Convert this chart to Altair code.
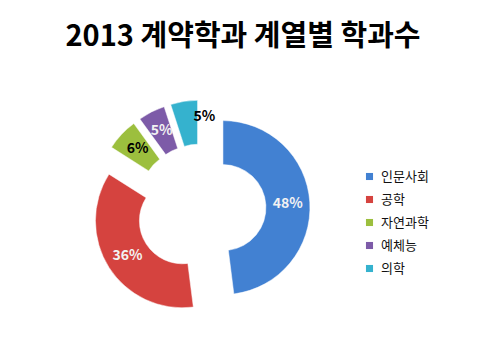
import altair as alt
import pandas as pd

title_text = "2013 계약학과 계열별 학과수"
categories = ["인문사회", "공학", "자연과학", "예체능", "의학"]
percents = [48, 36, 6, 5, 5]
colors = ["#4281D2", "#D5433F", "#9CBF3E", "#7D5BA8", "#35B2CE"]
dark_labels = ["자연과학", "의학"]

df = pd.DataFrame({"category": categories, "value": percents, "order": list(range(len(categories)))})

CX, CY = 201, 209
EXPLODE = 22
R_OUT, R_IN = 87, 43
R_LABEL = 65

base = alt.Chart(df).transform_window(
    cum="sum(value)", sort=[alt.SortField("order")], frame=[None, 0]
).transform_joinaggregate(total="sum(value)").transform_calculate(
    t0="(datum.cum - datum.value) / datum.total * 2 * PI",
    t1="datum.cum / datum.total * 2 * PI",
).transform_calculate(
    mid="(datum.t0 + datum.t1) / 2"
).transform_calculate(
    cx=f"{CX} + {EXPLODE} * sin(datum.mid)",
    cy=f"{CY} - {EXPLODE} * cos(datum.mid)",
    lx=f"{CX} + {EXPLODE + R_LABEL} * sin(datum.mid)",
    ly=f"{CY} - {EXPLODE + R_LABEL} * cos(datum.mid)",
    label="datum.value + '%'",
)

color_scale = alt.Scale(domain=categories, range=colors)

arcs = base.mark_arc(radius=R_OUT, radius2=R_IN, stroke="#ffffff", strokeWidth=0.5).encode(
    x=alt.X("cx:Q", scale=None, axis=None),
    y=alt.Y("cy:Q", scale=None, axis=None),
    theta=alt.Theta("t0:Q", scale=None),
    theta2=alt.Theta2("t1:Q"),
    color=alt.Color(
        "category:N",
        scale=color_scale,
        sort=categories,
        legend=alt.Legend(
            title=None,
            orient="none",
            legendX=363,
            legendY=170,
            symbolType="square",
            symbolSize=50,
            symbolStrokeWidth=0,
            labelFont="Noto Sans CJK KR",
            labelFontSize=13,
            labelColor="#111111",
            rowPadding=9,
            labelOffset=5,
        ),
    ),
)

text_props = dict(font="Noto Sans CJK KR", fontSize=14, fontWeight="bold", align="center", baseline="middle")

labels_main = base.transform_filter(
    alt.datum.category != categories[-1]
).mark_text(**text_props).encode(
    x=alt.X("lx:Q", scale=None, axis=None),
    y=alt.Y("ly:Q", scale=None, axis=None),
    text="label:N",
    color=alt.condition(
        alt.FieldOneOfPredicate(field="category", oneOf=dark_labels),
        alt.value("#000000"),
        alt.value("#F2F2F2"),
    ),
)

labels_last = base.transform_filter(
    alt.datum.category == categories[-1]
).mark_text(dx=17, dy=-6, color="#000000", **text_props).encode(
    x=alt.X("lx:Q", scale=None, axis=None),
    y=alt.Y("ly:Q", scale=None, axis=None),
    text="label:N",
)

title = alt.Chart(pd.DataFrame({"t": [title_text]})).mark_text(
    font="Noto Sans CJK KR", fontSize=29, fontWeight="bold", align="center", baseline="alphabetic", color="#000000"
).encode(x=alt.value(243), y=alt.value(46), text="t:N")

chart = alt.layer(arcs, labels_main, labels_last, title).properties(
    width=485, height=344, padding=0, background="#ffffff",
    autosize=alt.AutoSizeParams(type="none"),
).configure_view(strokeWidth=0, stroke=None)

chart.save("out.html", embed_options={"renderer": "svg", "actions": False})
